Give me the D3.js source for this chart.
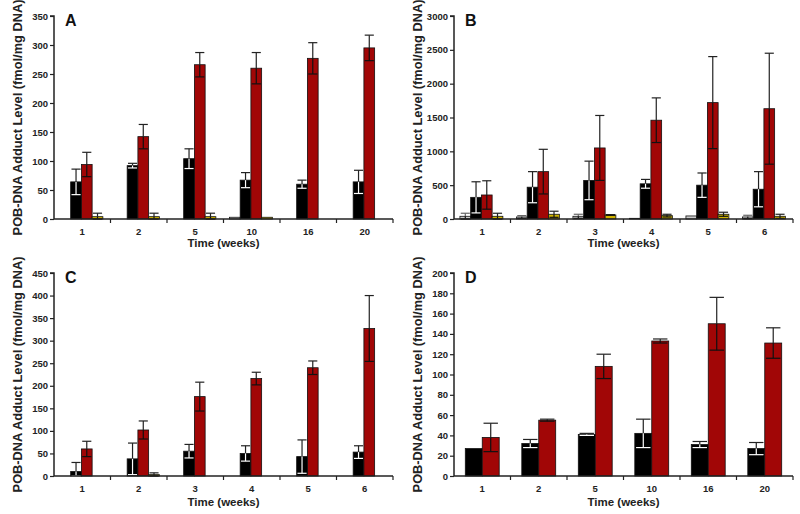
<!DOCTYPE html>
<html><head><meta charset="utf-8">
<script src="https://cdn.jsdelivr.net/npm/d3@7/dist/d3.min.js"></script>
<style>body{margin:0;background:#fff}svg{display:block}text{font-family:"Liberation Sans",Arial,sans-serif;font-weight:bold}</style>
</head><body><svg id="c" width="800" height="514"></svg>
<script>
// ---- data ----
const seriesNames = ["gray","black","red","yellow"];
const seriesColors = {gray:"#c9c9c9", black:"#000000", red:"#a10606", yellow:"#d0b400"};

const catsA = ["1","2","5","10","16","20"];
const meanA = {gray:[0,0,0,3,0,0], black:[64,92,104,67,60,64], red:[94,142,266,260,277,295], yellow:[4,4,4,3,0,0]};
const errA  = {gray:[0,0,0,0,0,0], black:[22,4,17,13,7,20], red:[21,21,21,27,27,22], yellow:[6,6,6,0,0,0]};
const ticksA = [0,50,100,150,200,250,300,350];

const catsB = ["1","2","3","4","5","6"];
const meanB = {gray:[40,30,40,10,45,30], black:[320,470,570,520,500,440], red:[355,700,1050,1460,1720,1630], yellow:[40,70,60,50,70,40]};
const errB  = {gray:[45,20,30,0,0,25], black:[230,230,285,65,180,260], red:[210,330,480,330,680,820], yellow:[45,45,5,20,30,30]};
const ticksB = [0,500,1000,1500,2000,2500,3000];

const catsC = ["1","2","3","4","5","6"];
const meanC = {gray:[0,0,0,0,0,0], black:[10,38,55,50,43,53], red:[60,102,176,216,240,327], yellow:[0,3,0,0,0,0]};
const errC  = {gray:[0,0,0,0,0,0], black:[20,35,15,17,37,14], red:[17,20,32,14,15,73], yellow:[0,4,0,0,0,0]};
const ticksC = [0,50,100,150,200,250,300,350,400,450];

const catsD = ["1","2","5","10","16","20"];
const meanD = {black:[27,32,41,42,31,27], red:[38,55,108,133,150,131]};
const errD  = {black:[0,4,1,14,3,6], red:[14,1,12,2,26,15]};
const ticksD = [0,20,40,60,80,100,120,140,160,180,200];

const yTitle = "POB-DNA Adduct Level (fmol/mg DNA)";
const xTitle = "Time (weeks)";

const panels = [
  {letter:"A", cats:catsA, mean:meanA, err:errA, ticks:ticksA, series:seriesNames, x0:54, x1:393, y0:16, y1:219, inner:[0.105,0.865], xt:28},
  {letter:"B", cats:catsB, mean:meanB, err:errB, ticks:ticksB, series:seriesNames, x0:454, x1:793, y0:16, y1:219, inner:[0.105,0.865], xt:28},
  {letter:"C", cats:catsC, mean:meanC, err:errC, ticks:ticksC, series:seriesNames, x0:54, x1:393, y0:273, y1:476, inner:[0.105,0.865], xt:30},
  {letter:"D", cats:catsD, mean:meanD, err:errD, ticks:ticksD, series:["black","red"], x0:454, x1:793, y0:273, y1:476, inner:[0.2,0.8], xt:30}
];

const svg = d3.select("#c");

panels.forEach(p => {
  const g = svg.append("g");
  const x = d3.scaleBand().domain(p.cats).range([p.x0, p.x1]).padding(0);
  const bw = x.bandwidth();
  const xs = d3.scaleBand().domain(p.series).range([bw*p.inner[0], bw*p.inner[1]]).padding(0);
  const y = d3.scaleLinear().domain([0, p.ticks[p.ticks.length-1]]).range([p.y1, p.y0]);

  p.series.forEach(s => {
    p.cats.forEach((c,i) => {
      const v = p.mean[s][i];
      if (v <= 0) return;
      const bx = x(c) + xs(s);
      const w = xs.bandwidth();
      g.append("rect").attr("x", bx).attr("y", y(v)).attr("width", w).attr("height", y(0)-y(v))
        .attr("fill", seriesColors[s]).attr("stroke","#111").attr("stroke-width",0.8);
      const e = p.err[s][i];
      if (e > 0) {
        const cx = bx + w/2, cw = w*0.85;
        const inCol = s === "black" ? "#ffffff" : "#111";
        const upCol = s === "gray" ? "#666" : "#222";
        g.append("line").attr("x1",cx).attr("x2",cx).attr("y1",y(v)).attr("y2",y(v+e)).attr("stroke",upCol).attr("stroke-width",1.2);
        g.append("line").attr("x1",cx-cw/2).attr("x2",cx+cw/2).attr("y1",y(v+e)).attr("y2",y(v+e)).attr("stroke",upCol).attr("stroke-width",1.2);
        const lo = Math.max(0, v-e);
        g.append("line").attr("x1",cx).attr("x2",cx).attr("y1",y(v)).attr("y2",y(lo)).attr("stroke",inCol).attr("stroke-width",1.2);
        g.append("line").attr("x1",cx-cw/2).attr("x2",cx+cw/2).attr("y1",y(lo)).attr("y2",y(lo)).attr("stroke",inCol).attr("stroke-width",1.2);
      }
    });
  });

  const ya = d3.axisLeft(y).tickValues(p.ticks).tickSize(4).tickPadding(2).tickFormat(d3.format("d"));
  const yg = g.append("g").attr("transform",`translate(${p.x0},0)`).call(ya);
  yg.select(".domain").attr("stroke","#222").attr("stroke-width",1.5).attr("d",`M-4,${p.y0}H0V${p.y1}`);
  yg.selectAll(".tick line").attr("stroke","#222").attr("stroke-width",1.2);
  yg.selectAll(".tick text").attr("font-size",9.5).attr("fill","#222");

  const xa = d3.axisBottom(x).tickSize(0).tickPadding(9);
  const xg = g.append("g").attr("transform",`translate(0,${p.y1})`).call(xa);
  xg.select(".domain").attr("stroke","#222").attr("stroke-width",1.5).attr("d",`M${p.x0},0H${p.x1}`);
  xg.selectAll(".tick text").attr("font-size",9.5).attr("fill","#222");
  p.cats.forEach((c,i) => {
    if (i>0) g.append("line").attr("x1",x(c)).attr("x2",x(c)).attr("y1",p.y1).attr("y2",p.y1+4).attr("stroke","#222").attr("stroke-width",1.2);
  });
  g.append("line").attr("x1",p.x1).attr("x2",p.x1).attr("y1",p.y1).attr("y2",p.y1+4).attr("stroke","#222").attr("stroke-width",1.2);

  g.append("text").attr("x",(p.x0+p.x1)/2).attr("y",p.y1+p.xt).attr("text-anchor","middle").attr("font-size",11.5).attr("fill","#222").text(xTitle);
  g.append("text").attr("transform",`translate(${p.x0-32},${(p.y0+p.y1)/2}) rotate(-90)`).attr("text-anchor","middle").attr("font-size",12.8).attr("fill","#222").text(yTitle);
  g.append("text").attr("x",p.x0+11).attr("y",p.y0+10).attr("font-size",16).attr("fill","#111").text(p.letter);
});
</script></body></html>
